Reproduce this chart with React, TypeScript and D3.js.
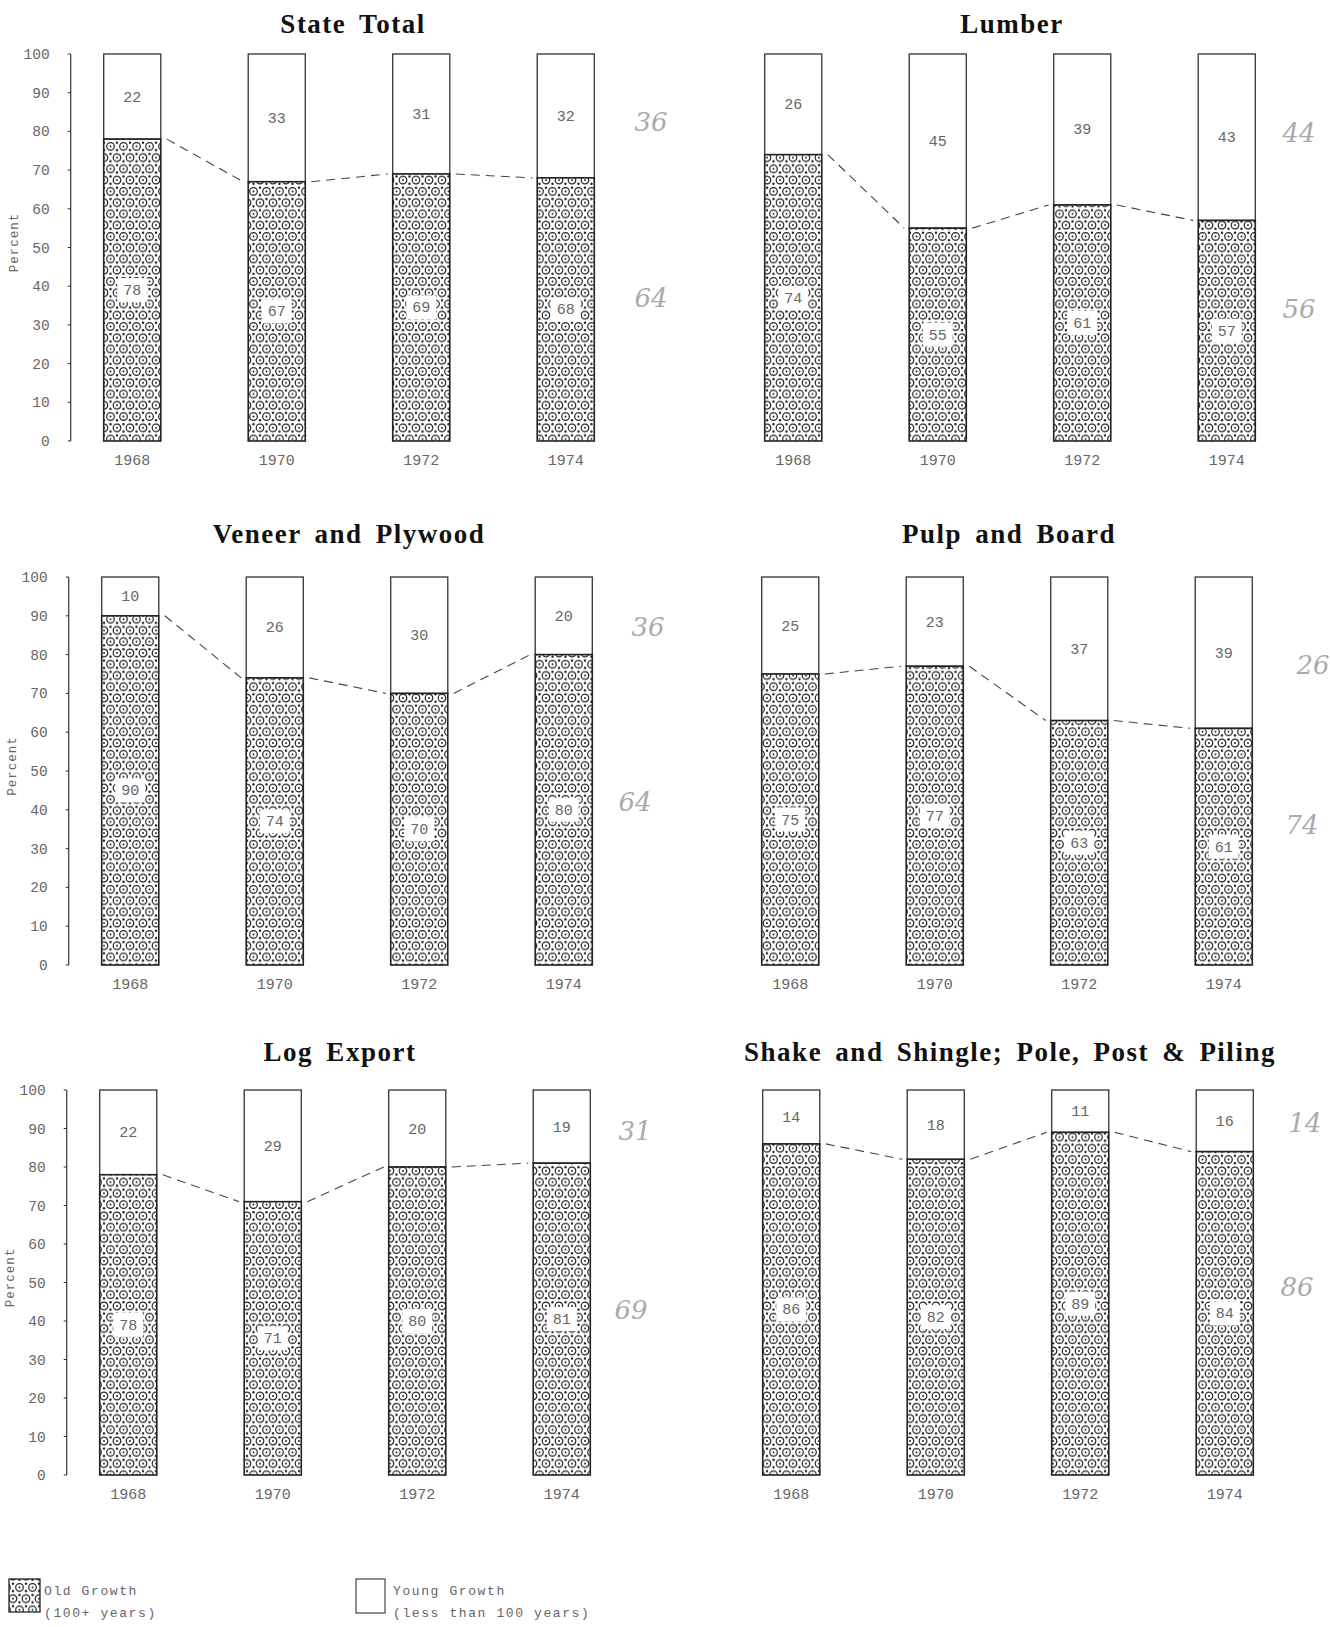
import React from "react";
import * as d3 from "d3";

const years = ["1968", "1970", "1972", "1974"];
const panelTitles = [
  "State Total",
  "Lumber",
  "Veneer and Plywood",
  "Pulp and Board",
  "Log Export",
  "Shake and Shingle; Pole, Post & Piling",
];
const stateTotalOld = [78, 67, 69, 68];
const stateTotalYoung = [22, 33, 31, 32];
const lumberOld = [74, 55, 61, 57];
const lumberYoung = [26, 45, 39, 43];
const veneerOld = [90, 74, 70, 80];
const veneerYoung = [10, 26, 30, 20];
const pulpOld = [75, 77, 63, 61];
const pulpYoung = [25, 23, 37, 39];
const logExportOld = [78, 71, 80, 81];
const logExportYoung = [22, 29, 20, 19];
const shakeOld = [86, 82, 89, 84];
const shakeYoung = [14, 18, 11, 16];
const notesYoung = ["36", "44", "36", "26", "31", "14"];
const notesOld = ["64", "56", "64", "74", "69", "86"];
const yTicks = [0, 10, 20, 30, 40, 50, 60, 70, 80, 90, 100];

const oldSeries = [stateTotalOld, lumberOld, veneerOld, pulpOld, logExportOld, shakeOld];
const youngSeries = [stateTotalYoung, lumberYoung, veneerYoung, pulpYoung, logExportYoung, shakeYoung];

// layout (positions only)
const panelXStart = [60, 721, 58, 718, 56, 719];
const rowY = [
  [54, 441],
  [577, 965],
  [1090, 1475],
];
const titleX = [353, 1012, 349, 1009, 340, 1010];
const titleY = [33, 33, 543, 543, 1061, 1061];
const noteYoungPos = [
  [651, 122], [1299, 133], [648, 627], [1313, 665], [635, 1131], [1305, 1123],
];
const noteOldPos = [
  [651, 298], [1299, 309], [635, 802], [1302, 825], [631, 1310], [1297, 1287],
];

const MONO = "'Liberation Mono', 'DejaVu Sans Mono', monospace";
const SERIF = "'Liberation Serif', 'DejaVu Serif', serif";
const TXT = "#666";

function Panel({ idx }: { idx: number }) {
  const row = Math.floor(idx / 2);
  const isLeft = idx % 2 === 0;
  const [yTop, yBottom] = rowY[row];
  const x0 = panelXStart[idx];
  const x = d3
    .scaleBand<string>()
    .domain(years)
    .range([x0, x0 + 578])
    .paddingInner(0.605)
    .paddingOuter(0.3025);
  const y = d3.scaleLinear().domain([0, 100]).range([yBottom, yTop]);
  const oldV = oldSeries[idx];
  const youngV = youngSeries[idx];
  const bw = x.bandwidth();
  const axisX = (x(years[0]) as number) - 33;

  const segs = years.slice(0, -1).map((yr, i) => {
    const x1 = (x(yr) as number) + bw + 6;
    const x2 = (x(years[i + 1]) as number) - 5;
    return { x1, x2, y1: y(oldV[i]), y2: y(oldV[i + 1]) };
  });

  return (
    <g>
      <text
        x={titleX[idx]}
        y={titleY[idx]}
        textAnchor="middle"
        fontFamily={SERIF}
        fontWeight="bold"
        fontSize={27}
        letterSpacing={1.5}
        wordSpacing={5}
        fill="#111"
      >
        {panelTitles[idx]}
      </text>
      {isLeft && (
        <g>
          <line x1={axisX} x2={axisX} y1={yTop} y2={yBottom} stroke="#333" strokeWidth={1.2} />
          {yTicks.map((t) => (
            <g key={t}>
              <line x1={axisX - 3} x2={axisX} y1={y(t)} y2={y(t)} stroke="#333" strokeWidth={1} />
              <text
                x={axisX - 21}
                y={y(t) + 5}
                textAnchor="end"
                fontFamily={MONO}
                fontSize={14.5}
                fill={TXT}
              >
                {t}
              </text>
            </g>
          ))}
          <text
            transform={`translate(${axisX - 53},${(yTop + yBottom) / 2 - 5}) rotate(-90)`}
            textAnchor="middle"
            fontFamily={MONO}
            fontSize={12.5}
            letterSpacing={1}
            fill={TXT}
          >
            Percent
          </text>
        </g>
      )}
      {years.map((yr, i) => {
        const bx = x(yr) as number;
        const yOld = y(oldV[i]);
        const yTotal = y(oldV[i] + youngV[i]);
        const cx = bx + bw / 2;
        const oldMid = y(oldV[i] / 2);
        const youngMid = y(oldV[i] + youngV[i] / 2);
        return (
          <g key={yr}>
            <rect x={bx} y={yTotal} width={bw} height={yOld - yTotal} fill="#fff" stroke="#333" strokeWidth={1.3} />
            <rect x={bx} y={yOld} width={bw} height={yBottom - yOld} fill="url(#oldPattern)" stroke="#222" strokeWidth={1.6} />
            <text x={cx} y={youngMid + 5} textAnchor="middle" fontFamily={MONO} fontSize={15} fill={TXT}>
              {youngV[i]}
            </text>
            <rect x={cx - 15} y={oldMid - 12} width={30} height={24} fill="#fff" />
            <text x={cx} y={oldMid + 5} textAnchor="middle" fontFamily={MONO} fontSize={15} fill={TXT}>
              {oldV[i]}
            </text>
            <text x={cx} y={yBottom + 24} textAnchor="middle" fontFamily={MONO} fontSize={15} fill={TXT}>
              {yr}
            </text>
          </g>
        );
      })}
      {segs.map((s, i) => (
        <line
          key={i}
          x1={s.x1}
          x2={s.x2}
          y1={s.y1}
          y2={s.y2}
          stroke="#444"
          strokeWidth={1.1}
          strokeDasharray="9,6"
        />
      ))}
      <text
        x={noteYoungPos[idx][0]}
        y={noteYoungPos[idx][1] + 9}
        textAnchor="middle"
        fontFamily="'DejaVu Serif', serif"
        fontStyle="italic"
        fontSize={26}
        fill="#aaa"
      >
        {notesYoung[idx]}
      </text>
      <text
        x={noteOldPos[idx][0]}
        y={noteOldPos[idx][1] + 9}
        textAnchor="middle"
        fontFamily="'DejaVu Serif', serif"
        fontStyle="italic"
        fontSize={26}
        fill="#aaa"
      >
        {notesOld[idx]}
      </text>
    </g>
  );
}

export default function App() {
  const W = 1330;
  const H = 1627;
  const s = 13;
  const h = s * 1.732;
  return (
    <svg
      width={W}
      height={H}
      viewBox={`0 0 ${W} ${H}`}
      style={{ position: "absolute", left: 0, top: 0, background: "#fff" }}
    >
      <defs>
        <pattern id="oldPattern" patternUnits="userSpaceOnUse" width={s} height={h}>
          <rect width={s} height={h} fill="#fff" />
          {[
            [0, 0], [s, 0], [s / 2, h / 2], [0, h], [s, h],
          ].map(([cx, cy], i) => (
            <g key={i}>
              <circle cx={cx} cy={cy} r={3.8} fill="none" stroke="#222" strokeWidth={1.2} />
              <circle cx={cx} cy={cy} r={1} fill="#222" />
            </g>
          ))}
          {[
            [s / 2, h / 6], [0, h / 3], [s, h / 3], [s / 2, (5 * h) / 6], [0, (2 * h) / 3], [s, (2 * h) / 3],
          ].map(([cx, cy], i) => (
            <circle key={i} cx={cx} cy={cy} r={1.2} fill="#222" />
          ))}
        </pattern>
      </defs>
      <rect width={W} height={H} fill="#fff" />
      {panelTitles.map((_, i) => (
        <Panel key={i} idx={i} />
      ))}
      <g>
        <rect x={9} y={1579} width={31} height={33} fill="url(#oldPattern)" stroke="#222" strokeWidth={1.3} />
        <text x={44} y={1595} fontFamily={MONO} fontSize={13} letterSpacing={1.6} fill={TXT}>
          Old Growth
        </text>
        <text x={44} y={1617} fontFamily={MONO} fontSize={13} letterSpacing={1.6} fill={TXT}>
          (100+ years)
        </text>
        <rect x={356} y={1579} width={29} height={34} fill="#fff" stroke="#444" strokeWidth={1.2} />
        <text x={393} y={1595} fontFamily={MONO} fontSize={13} letterSpacing={1.6} fill={TXT}>
          Young Growth
        </text>
        <text x={393} y={1617} fontFamily={MONO} fontSize={13} letterSpacing={1.6} fill={TXT}>
          (less than 100 years)
        </text>
      </g>
    </svg>
  );
}
